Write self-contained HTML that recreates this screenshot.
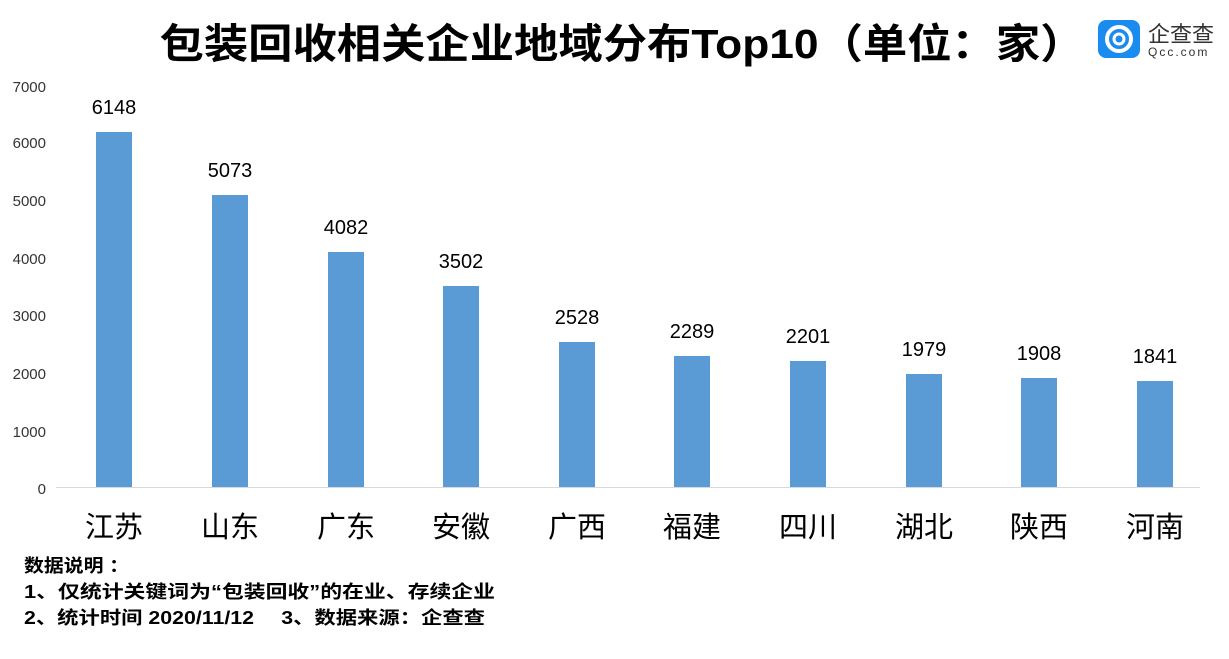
<!DOCTYPE html>
<html><head><meta charset="utf-8"><style>
body{margin:0;background:#fff;width:1229px;height:654px;overflow:hidden}
svg text{font-family:"Liberation Sans","Noto Sans CJK SC",sans-serif}
</style></head><body>
<svg width="1229" height="654" viewBox="0 0 1229 654" xmlns="http://www.w3.org/2000/svg">
<text x="622" y="58" text-anchor="middle" font-size="41" font-weight="bold" fill="#000" textLength="925" lengthAdjust="spacingAndGlyphs">包装回收相关企业地域分布Top10（单位：家）</text>
<rect x="1098" y="20" width="42" height="38" rx="8" fill="#1a8cf0"/>
<circle cx="1119" cy="39" r="12" fill="none" stroke="#fff" stroke-width="4"/>
<circle cx="1119" cy="39" r="5" fill="none" stroke="#fff" stroke-width="3"/>
<text x="1148" y="42" font-size="22" fill="#333">企查查</text>
<text x="1148" y="56" font-size="12" fill="#333" letter-spacing="2">Qcc.com</text>
<g font-size="15" fill="#333" text-anchor="end">
<text x="46" y="92">7000</text><text x="46" y="148">6000</text><text x="46" y="206">5000</text><text x="46" y="264">4000</text><text x="46" y="321">3000</text><text x="46" y="379">2000</text><text x="46" y="437">1000</text><text x="46" y="494">0</text>
</g>
<line x1="56" y1="487.5" x2="1200" y2="487.5" stroke="#d9d9d9"/>
<g fill="#5b9bd5">
<rect x="96" y="132" width="36" height="355"/>
<rect x="212" y="195" width="36" height="292"/>
<rect x="328" y="252" width="36" height="235"/>
<rect x="443" y="286" width="36" height="201"/>
<rect x="559" y="342" width="36" height="145"/>
<rect x="674" y="356" width="36" height="131"/>
<rect x="790" y="361" width="36" height="126"/>
<rect x="906" y="374" width="36" height="113"/>
<rect x="1021" y="378" width="36" height="109"/>
<rect x="1137" y="381" width="36" height="106"/>
</g>
<g font-size="20" fill="#000" text-anchor="middle">
<text x="114" y="114">6148</text><text x="230" y="177">5073</text><text x="346" y="234">4082</text><text x="461" y="268">3502</text><text x="577" y="324">2528</text><text x="692" y="338">2289</text><text x="808" y="343">2201</text><text x="924" y="356">1979</text><text x="1039" y="360">1908</text><text x="1155" y="363">1841</text>
</g>
<g font-size="29" fill="#000" text-anchor="middle">
<text x="114" y="537">江苏</text><text x="230" y="537">山东</text><text x="346" y="537">广东</text><text x="461" y="537">安徽</text><text x="577" y="537">广西</text><text x="692" y="537">福建</text><text x="808" y="537">四川</text><text x="924" y="537">湖北</text><text x="1039" y="537">陕西</text><text x="1155" y="537">河南</text>
</g>
<g font-size="18" font-weight="bold" fill="#000">
<text x="24" y="572" textLength="105" lengthAdjust="spacingAndGlyphs">数据说明 ：</text>
<text x="24" y="598" textLength="471" lengthAdjust="spacingAndGlyphs">1、仅统计关键词为“包装回收”的在业、存续企业</text>
<text x="24" y="624" textLength="461" lengthAdjust="spacingAndGlyphs">2、统计时间 2020/11/12　 3、数据来源：企查查</text>
</g>
</svg>
</body></html>
